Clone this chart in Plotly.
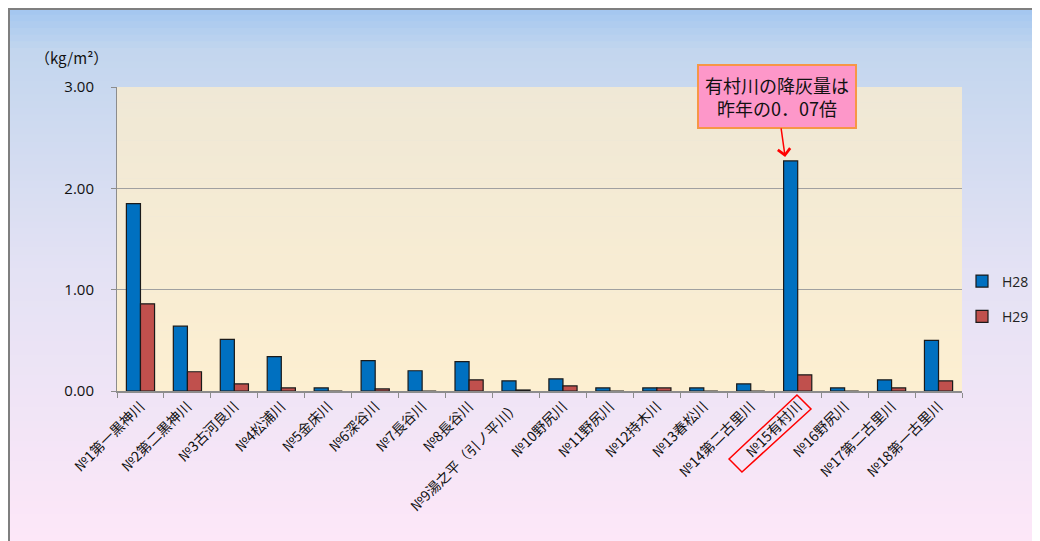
import plotly.graph_objects as go

categories = ["№1第一黒神川", "№2第二黒神川", "№3古河良川", "№4松浦川", "№5金床川",
              "№6深谷川", "№7長谷川", "№8長谷川", "№9湯之平（引ノ平川）", "№10野尻川",
              "№11野尻川", "№12持木川", "№13春松川", "№14第二古里川", "№15有村川",
              "№16野尻川", "№17第二古里川", "№18第一古里川"]
h28 = [1.85, 0.64, 0.51, 0.34, 0.03, 0.30, 0.20, 0.29, 0.10, 0.12,
       0.03, 0.03, 0.03, 0.07, 2.27, 0.03, 0.11, 0.50]
h29 = [0.86, 0.19, 0.07, 0.03, 0.00, 0.02, 0.00, 0.11, 0.01, 0.05,
       0.00, 0.03, 0.00, 0.00, 0.16, 0.00, 0.03, 0.10]
y_ticks = [0, 1, 2, 3]
y_tick_labels = ["0.00", "1.00", "2.00", "3.00"]

# page body adds an 8px margin; figure drawn in 1032x533
OFF = 8
W, H = 1040 - OFF, 541 - OFF
L, R, T, B = 117 - OFF, 1040 - 962, 87 - OFF, 541 - 391
pw, ph = W - L - R, H - T - B

def px2x(px):  # picture x -> paper x
    return (px - OFF - L) / pw

def px2y(py):  # picture y -> paper y
    return (H - B - (py - OFF)) / ph

def hex2rgb(h):
    h = h.lstrip("#")
    return tuple(int(h[i:i + 2], 16) for i in (0, 2, 4))

def lerp(stops, t):
    for i in range(len(stops) - 1):
        t0, c0 = stops[i]
        t1, c1 = stops[i + 1]
        if t0 <= t <= t1:
            f = (t - t0) / (t1 - t0) if t1 > t0 else 0
            a, b = hex2rgb(c0), hex2rgb(c1)
            return "rgb(%d,%d,%d)" % tuple(round(a[k] + (b[k] - a[k]) * f) for k in range(3))
    return stops[-1][1]

shapes = []
# paper gradient (in picture pixel rows)
paper_stops = [(0, "#a2c6f0"), (0.08, "#c3d6ee"), (0.5, "#e4e2f4"), (1, "#fde7f8")]
n = 80
top_px, bot_px = OFF, 541
for i in range(n):
    y0p = top_px + (bot_px - top_px) * i / n
    y1p = top_px + (bot_px - top_px) * (i + 1) / n + 1
    c = lerp(paper_stops, (i + 0.5) / n)
    shapes.append(dict(type="rect", xref="paper", yref="paper", layer="below",
                       x0=px2x(OFF), x1=px2x(1040), y0=px2y(y1p), y1=px2y(y0p),
                       fillcolor=c, line=dict(width=0)))
# plot area gradient
plot_stops = [(0, "#efe8d6"), (1, "#fdefd1")]
n2 = 40
for i in range(n2):
    y0p = T + ph * i / n2
    y1p = T + ph * (i + 1) / n2 + 0.5
    c = lerp(plot_stops, (i + 0.5) / n2)
    shapes.append(dict(type="rect", xref="paper", yref="paper", layer="below",
                       x0=0, x1=1, y0=max(0, (H - B - y1p) / ph), y1=(H - B - y0p) / ph,
                       fillcolor=c, line=dict(width=0)))
# outer frame (left and top edges)
shapes.append(dict(type="line", xref="paper", yref="paper", layer="above",
                   x0=px2x(OFF + 1), x1=px2x(OFF + 1), y0=px2y(541), y1=px2y(OFF),
                   line=dict(color="#7f7f7f", width=2)))
shapes.append(dict(type="line", xref="paper", yref="paper", layer="above",
                   x0=px2x(OFF), x1=px2x(1040), y0=px2y(OFF + 1), y1=px2y(OFF + 1),
                   line=dict(color="#7f7f7f", width=2)))
# red rotated box around №15 label
pts = [(729, 459), (742, 472), (811, 409), (797, 395)]
path = "M " + " L ".join("%.4f,%.4f" % (px2x(a), px2y(b)) for a, b in pts) + " Z"
shapes.append(dict(type="path", xref="paper", yref="paper", path=path,
                   line=dict(color="#ff0000", width=1.5), fillcolor="rgba(0,0,0,0)"))

fig = go.Figure()
fig.add_trace(go.Bar(x=categories, y=h28, name="H28",
                     marker=dict(color="#0070c0", line=dict(color="#1a1a1a", width=1.2)),
                     legendgroup="a"))
fig.add_trace(go.Bar(x=categories, y=h29, name="H29",
                     marker=dict(color="#c0504d", line=dict(color="#1a1a1a", width=1.2)),
                     legendgroup="b"))

font_jp = "Noto Sans CJK JP"
fig.update_layout(
    width=W, height=H,
    margin=dict(l=L, r=R, t=T, b=B, autoexpand=False),
    paper_bgcolor="rgba(0,0,0,0)", plot_bgcolor="rgba(0,0,0,0)",
    barmode="group", bargap=0.4, bargroupgap=0,
    font=dict(family=font_jp, color="#222222"),
    shapes=shapes,
    legend=dict(x=px2x(962), y=px2y(299), xanchor="left", yanchor="middle",
                font=dict(size=14, family="Open Sans"), tracegroupgap=14,
                bgcolor="rgba(0,0,0,0)", itemwidth=30),
    showlegend=True,
)
fig.update_xaxes(type="category", tickangle=-45, tickfont=dict(size=14, family=font_jp, color="#111111"),
                 ticks="outside", tickson="boundaries", ticklen=5, tickcolor="#8c8c8c",
                 showline=True, linecolor="#8c8c8c", linewidth=1.5, showgrid=False)
fig.update_yaxes(range=[0, 3], tickvals=y_ticks, ticktext=y_tick_labels,
                 tickfont=dict(size=15, family="Open Sans", color="#111111"), ticks="outside", ticklen=5,
                 tickcolor="#8c8c8c", showline=True, linecolor="#8c8c8c", linewidth=1,
                 showgrid=True, gridcolor="#a0a0a0", gridwidth=1.2, zeroline=False,
                 ticklabelstandoff=14)

fig.add_annotation(xref="paper", yref="paper", x=px2x(33), y=px2y(57),
                   xanchor="left", yanchor="middle", showarrow=False,
                   text="（kg/m²）", font=dict(size=15, family=font_jp, color="#111111"))
fig.add_annotation(x=categories[14], y=h28[14], xref="x", yref="y",
                   text="有村川の降灰量は<br>昨年の0．07倍",
                   font=dict(size=18, family=font_jp, color="#111111"),
                   bgcolor="#fd97c9", bordercolor="#f79646", borderwidth=2, borderpad=6,
                   showarrow=True, arrowhead=4, arrowsize=1.6, arrowwidth=1.5,
                   arrowcolor="#ff0000", ax=-9, ay=-64, xshift=-12, standoff=4)

fig.write_html("out.html")
